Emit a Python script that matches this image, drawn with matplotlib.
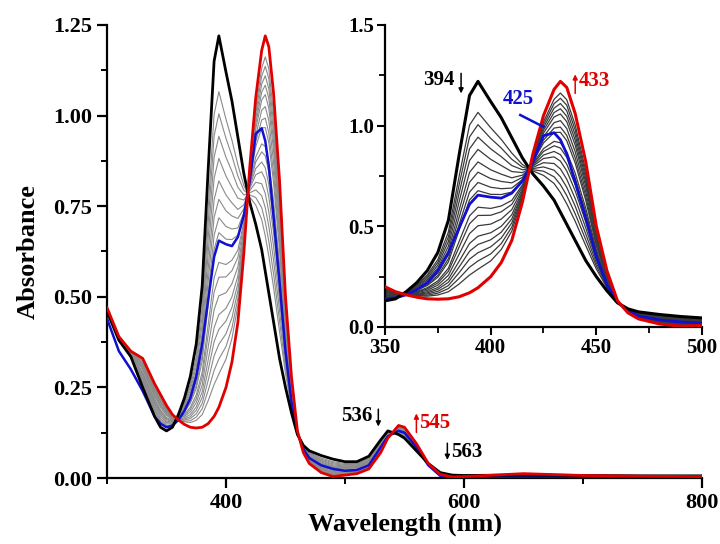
import numpy as np
import matplotlib
matplotlib.use("Agg")
import matplotlib.pyplot as plt
from matplotlib.ticker import MultipleLocator, FormatStrFormatter

plt.rcParams["font.family"] = ["Liberation Serif", "DejaVu Serif"]
plt.rcParams["font.weight"] = "bold"

# wavelength grid (nm)
wl = [300, 310, 320, 330, 340, 345, 350, 355, 360, 365, 370, 375, 380, 385, 390, 394,
      400, 405, 410, 415, 420, 425, 430, 433, 436, 440, 445, 450, 455, 460, 465, 470,
      480, 490, 500, 510, 520, 530, 536, 545, 550, 560, 570, 580, 590, 600, 650, 700, 750, 800]

# start spectrum (black)
abs_start = [0.46, 0.38, 0.335, 0.25, 0.17, 0.14, 0.13, 0.14, 0.175, 0.22, 0.28, 0.37, 0.53, 0.85, 1.15, 1.22,
             1.12, 1.04, 0.94, 0.84, 0.76, 0.70, 0.63, 0.57, 0.51, 0.43, 0.33, 0.25, 0.18, 0.12, 0.09, 0.075,
             0.062, 0.052, 0.045, 0.045, 0.06, 0.105, 0.13, 0.12, 0.11, 0.075, 0.04, 0.015, 0.008, 0.007, 0.008, 0.007, 0.006, 0.006]

# end spectrum (red)
abs_end = [0.47, 0.39, 0.35, 0.33, 0.26, 0.23, 0.20, 0.175, 0.16, 0.148, 0.14, 0.138, 0.14, 0.15, 0.17, 0.195,
           0.25, 0.32, 0.43, 0.62, 0.86, 1.05, 1.18, 1.22, 1.19, 1.06, 0.82, 0.50, 0.28, 0.13, 0.07, 0.04,
           0.015, 0.004, 0.008, 0.012, 0.025, 0.07, 0.11, 0.145, 0.14, 0.095, 0.04, 0.01, 0.003, 0.004, 0.012, 0.007, 0.005, 0.004]

# highlighted intermediate spectrum (blue, 425 nm)
abs_mid = [0.44, 0.35, 0.30, 0.24, 0.17, 0.15, 0.14, 0.145, 0.16, 0.185, 0.22, 0.28, 0.37, 0.49, 0.61, 0.655,
           0.645, 0.64, 0.665, 0.725, 0.82, 0.95, 0.965, 0.93, 0.86, 0.72, 0.54, 0.35, 0.21, 0.125, 0.08, 0.055,
           0.035, 0.025, 0.02, 0.022, 0.035, 0.085, 0.115, 0.13, 0.125, 0.085, 0.035, 0.006, 0.003, 0.003, 0.004, 0.004, 0.003, 0.003]

# titration steps (grey)
gray_01 = [0.462, 0.382, 0.337, 0.262, 0.184, 0.154, 0.141, 0.145, 0.173, 0.209, 0.259, 0.335, 0.472, 0.745, 1.003, 1.066,
           0.990, 0.932, 0.864, 0.807, 0.775, 0.753, 0.713, 0.668, 0.612, 0.525, 0.404, 0.288, 0.195, 0.122, 0.087, 0.070,
           0.055, 0.045, 0.040, 0.040, 0.055, 0.100, 0.127, 0.124, 0.115, 0.078, 0.040, 0.014, 0.007, 0.007, 0.009, 0.007, 0.006, 0.006]
gray_02 = [0.462, 0.382, 0.338, 0.267, 0.189, 0.159, 0.145, 0.147, 0.172, 0.205, 0.251, 0.321, 0.448, 0.703, 0.944, 1.005,
           0.937, 0.889, 0.833, 0.794, 0.781, 0.774, 0.746, 0.707, 0.653, 0.562, 0.433, 0.303, 0.201, 0.122, 0.086, 0.068,
           0.052, 0.042, 0.037, 0.038, 0.053, 0.098, 0.126, 0.125, 0.116, 0.079, 0.040, 0.014, 0.007, 0.006, 0.009, 0.007, 0.006, 0.006]
gray_03 = [0.463, 0.383, 0.339, 0.272, 0.194, 0.164, 0.149, 0.150, 0.171, 0.201, 0.242, 0.307, 0.425, 0.661, 0.885, 0.943,
           0.885, 0.846, 0.802, 0.781, 0.787, 0.795, 0.779, 0.746, 0.694, 0.600, 0.462, 0.318, 0.207, 0.123, 0.085, 0.066,
           0.049, 0.039, 0.035, 0.036, 0.051, 0.096, 0.125, 0.127, 0.118, 0.080, 0.040, 0.014, 0.007, 0.006, 0.009, 0.007, 0.006, 0.005]
gray_04 = [0.463, 0.383, 0.340, 0.276, 0.200, 0.170, 0.153, 0.152, 0.170, 0.196, 0.234, 0.293, 0.401, 0.619, 0.827, 0.882,
           0.833, 0.802, 0.772, 0.767, 0.793, 0.816, 0.812, 0.785, 0.734, 0.638, 0.492, 0.333, 0.213, 0.123, 0.083, 0.063,
           0.047, 0.036, 0.033, 0.034, 0.048, 0.093, 0.123, 0.128, 0.120, 0.082, 0.040, 0.013, 0.006, 0.006, 0.009, 0.007, 0.006, 0.005]
gray_05 = [0.464, 0.384, 0.341, 0.281, 0.205, 0.175, 0.157, 0.154, 0.169, 0.192, 0.225, 0.280, 0.378, 0.577, 0.768, 0.820,
           0.781, 0.759, 0.741, 0.754, 0.799, 0.837, 0.845, 0.824, 0.775, 0.676, 0.521, 0.348, 0.219, 0.124, 0.082, 0.061,
           0.044, 0.033, 0.031, 0.032, 0.046, 0.091, 0.122, 0.130, 0.122, 0.083, 0.040, 0.013, 0.006, 0.006, 0.010, 0.007, 0.006, 0.005]
gray_06 = [0.464, 0.384, 0.342, 0.285, 0.210, 0.180, 0.161, 0.155, 0.168, 0.188, 0.218, 0.268, 0.358, 0.542, 0.719, 0.769,
           0.737, 0.723, 0.716, 0.743, 0.804, 0.854, 0.872, 0.856, 0.809, 0.707, 0.546, 0.360, 0.224, 0.124, 0.081, 0.060,
           0.041, 0.031, 0.029, 0.031, 0.045, 0.090, 0.121, 0.131, 0.123, 0.084, 0.040, 0.013, 0.006, 0.006, 0.010, 0.007, 0.006, 0.005]
gray_07 = [0.465, 0.385, 0.342, 0.289, 0.214, 0.184, 0.164, 0.157, 0.168, 0.185, 0.211, 0.256, 0.339, 0.507, 0.670, 0.718,
           0.694, 0.687, 0.690, 0.732, 0.809, 0.872, 0.900, 0.889, 0.843, 0.739, 0.570, 0.373, 0.229, 0.125, 0.080, 0.058,
           0.039, 0.029, 0.027, 0.029, 0.043, 0.088, 0.120, 0.132, 0.125, 0.085, 0.040, 0.013, 0.006, 0.006, 0.010, 0.007, 0.006, 0.005]
gray_08 = [0.465, 0.385, 0.343, 0.292, 0.218, 0.188, 0.167, 0.159, 0.167, 0.182, 0.206, 0.247, 0.323, 0.479, 0.631, 0.677,
           0.659, 0.658, 0.670, 0.723, 0.813, 0.886, 0.922, 0.915, 0.870, 0.764, 0.590, 0.383, 0.233, 0.125, 0.079, 0.056,
           0.037, 0.027, 0.025, 0.028, 0.041, 0.086, 0.119, 0.133, 0.126, 0.086, 0.040, 0.012, 0.005, 0.005, 0.010, 0.007, 0.005, 0.005]
gray_09 = [0.466, 0.386, 0.344, 0.299, 0.225, 0.195, 0.173, 0.161, 0.166, 0.176, 0.195, 0.229, 0.292, 0.423, 0.552, 0.595,
           0.589, 0.601, 0.629, 0.706, 0.821, 0.914, 0.966, 0.967, 0.925, 0.814, 0.629, 0.403, 0.241, 0.126, 0.078, 0.054,
           0.033, 0.023, 0.022, 0.025, 0.039, 0.084, 0.118, 0.135, 0.128, 0.087, 0.040, 0.012, 0.005, 0.005, 0.010, 0.007, 0.005, 0.005]
gray_10 = [0.467, 0.387, 0.345, 0.302, 0.229, 0.199, 0.176, 0.163, 0.165, 0.173, 0.189, 0.219, 0.277, 0.395, 0.513, 0.554,
           0.555, 0.572, 0.609, 0.697, 0.825, 0.928, 0.988, 0.993, 0.952, 0.840, 0.649, 0.413, 0.245, 0.127, 0.077, 0.052,
           0.031, 0.021, 0.021, 0.024, 0.037, 0.082, 0.117, 0.136, 0.130, 0.088, 0.040, 0.012, 0.005, 0.005, 0.011, 0.007, 0.005, 0.005]
gray_11 = [0.467, 0.387, 0.346, 0.306, 0.233, 0.203, 0.179, 0.165, 0.165, 0.170, 0.182, 0.208, 0.257, 0.360, 0.464, 0.503,
           0.511, 0.536, 0.583, 0.686, 0.830, 0.945, 1.015, 1.025, 0.986, 0.871, 0.673, 0.425, 0.250, 0.127, 0.076, 0.051,
           0.029, 0.018, 0.019, 0.022, 0.036, 0.081, 0.116, 0.138, 0.131, 0.089, 0.040, 0.012, 0.005, 0.005, 0.011, 0.007, 0.005, 0.005]
gray_12 = [0.468, 0.388, 0.346, 0.310, 0.238, 0.208, 0.183, 0.166, 0.164, 0.166, 0.175, 0.196, 0.238, 0.325, 0.415, 0.451,
           0.468, 0.500, 0.558, 0.675, 0.835, 0.963, 1.043, 1.058, 1.020, 0.903, 0.698, 0.438, 0.255, 0.128, 0.075, 0.049,
           0.027, 0.016, 0.017, 0.020, 0.034, 0.079, 0.115, 0.139, 0.133, 0.090, 0.040, 0.011, 0.004, 0.005, 0.011, 0.007, 0.005, 0.005]
gray_13 = [0.468, 0.388, 0.347, 0.313, 0.241, 0.211, 0.185, 0.168, 0.163, 0.163, 0.169, 0.187, 0.222, 0.297, 0.376, 0.410,
           0.433, 0.471, 0.537, 0.666, 0.839, 0.977, 1.065, 1.084, 1.047, 0.928, 0.717, 0.448, 0.259, 0.128, 0.074, 0.047,
           0.025, 0.014, 0.016, 0.019, 0.032, 0.077, 0.114, 0.140, 0.134, 0.091, 0.040, 0.011, 0.004, 0.005, 0.011, 0.007, 0.005, 0.004]
gray_14 = [0.468, 0.388, 0.347, 0.316, 0.245, 0.215, 0.188, 0.169, 0.163, 0.160, 0.164, 0.177, 0.206, 0.269, 0.337, 0.369,
           0.398, 0.442, 0.517, 0.657, 0.843, 0.991, 1.087, 1.110, 1.074, 0.953, 0.737, 0.458, 0.263, 0.128, 0.073, 0.046,
           0.023, 0.012, 0.014, 0.018, 0.031, 0.076, 0.113, 0.141, 0.135, 0.092, 0.040, 0.011, 0.004, 0.005, 0.011, 0.007, 0.005, 0.004]
gray_15 = [0.469, 0.389, 0.348, 0.320, 0.248, 0.218, 0.191, 0.170, 0.162, 0.157, 0.158, 0.168, 0.191, 0.241, 0.297, 0.328,
           0.363, 0.414, 0.496, 0.649, 0.847, 1.005, 1.109, 1.136, 1.102, 0.978, 0.756, 0.468, 0.267, 0.129, 0.073, 0.045,
           0.021, 0.010, 0.013, 0.016, 0.030, 0.075, 0.113, 0.142, 0.136, 0.092, 0.040, 0.011, 0.004, 0.004, 0.011, 0.007, 0.005, 0.004]
gray_16 = [0.469, 0.389, 0.349, 0.323, 0.252, 0.222, 0.194, 0.172, 0.161, 0.155, 0.153, 0.159, 0.175, 0.213, 0.258, 0.287,
           0.328, 0.385, 0.476, 0.640, 0.851, 1.019, 1.131, 1.162, 1.129, 1.003, 0.776, 0.478, 0.271, 0.129, 0.072, 0.043,
           0.019, 0.008, 0.011, 0.015, 0.028, 0.073, 0.112, 0.143, 0.137, 0.093, 0.040, 0.011, 0.003, 0.004, 0.012, 0.007, 0.005, 0.004]
grays = [gray_01, gray_02, gray_03, gray_04, gray_05, gray_06, gray_07, gray_08,
         gray_09, gray_10, gray_11, gray_12, gray_13, gray_14, gray_15, gray_16]

fig = plt.figure(figsize=(7.2, 5.44), dpi=100)

ax = fig.add_axes([107 / 720, 66 / 544, 595 / 720, 453 / 544])
for g in grays:
    ax.plot(wl, g, color="#8a8a8a", lw=0.8, zorder=2)
ax.plot(wl, abs_mid, color="#1010d0", lw=1.8, zorder=3)
ax.plot(wl, abs_start, color="black", lw=2.0, zorder=4)
ax.plot(wl, abs_end, color="#e00000", lw=2.0, zorder=5)

ax.set_xlim(300, 800)
ax.set_ylim(0, 1.25)
ax.xaxis.set_major_locator(MultipleLocator(200))
ax.xaxis.set_minor_locator(MultipleLocator(100))
ax.yaxis.set_major_locator(MultipleLocator(0.25))
ax.yaxis.set_minor_locator(MultipleLocator(0.125))
ax.yaxis.set_major_formatter(FormatStrFormatter("%.2f"))
ax.set_xlabel("Wavelength (nm)", fontsize=19, fontweight="bold", labelpad=0)
ax.set_ylabel("Absorbance", fontsize=19, fontweight="bold", labelpad=10)

ax.spines["top"].set_visible(False)
ax.spines["right"].set_visible(False)
for s in ("left", "bottom"):
    ax.spines[s].set_linewidth(1.6)
ax.tick_params(which="major", direction="out", length=7, width=1.6, labelsize=16)
ax.tick_params(which="minor", direction="out", length=4, width=1.4)

arrow = dict(arrowstyle="-|>", lw=1.1, mutation_scale=7, shrinkA=0, shrinkB=0)
ax.text(523, 0.172, "536", ha="right", va="center", fontsize=15, fontweight="bold")
ax.annotate("", xy=(528, 0.142), xytext=(528, 0.19), arrowprops=dict(arrow, color="black"))
ax.annotate("", xy=(560, 0.178), xytext=(560, 0.126), arrowprops=dict(arrow, color="#e00000"))
ax.text(562, 0.152, "545", ha="left", va="center", fontsize=15, fontweight="bold", color="#e00000")
ax.annotate("", xy=(586, 0.05), xytext=(586, 0.096), arrowprops=dict(arrow, color="black"))
ax.text(589, 0.073, "563", ha="left", va="center", fontsize=15, fontweight="bold")

# inset
ins = fig.add_axes([385 / 720, 217 / 544, 317 / 720, 302 / 544])
for g in grays:
    ins.plot(wl, g, color="#3a3a3a", lw=0.9, zorder=2)
ins.plot(wl, abs_mid, color="#1010d0", lw=2.0, zorder=3)
ins.plot(wl, abs_start, color="black", lw=2.2, zorder=4)
ins.plot(wl, abs_end, color="#e00000", lw=2.2, zorder=5)
ins.set_xlim(350, 500)
ins.set_ylim(0, 1.5)
ins.xaxis.set_major_locator(MultipleLocator(50))
ins.xaxis.set_minor_locator(MultipleLocator(25))
ins.yaxis.set_major_locator(MultipleLocator(0.5))
ins.yaxis.set_minor_locator(MultipleLocator(0.25))
ins.yaxis.set_major_formatter(FormatStrFormatter("%.1f"))
ins.spines["top"].set_visible(False)
ins.spines["right"].set_visible(False)
for s in ("left", "bottom"):
    ins.spines[s].set_linewidth(1.6)
ins.tick_params(which="major", direction="out", length=6, width=1.5, labelsize=15, pad=2)
ins.tick_params(which="minor", direction="out", length=4, width=1.3)

ins.text(383, 1.227, "394", ha="right", va="center", fontsize=15, fontweight="bold")
ins.annotate("", xy=(386, 1.16), xytext=(386, 1.26), arrowprops=dict(arrow, color="black"))
ins.text(413, 1.13, "425", ha="center", va="center", fontsize=15, fontweight="bold", color="#1010d0")
ins.plot([414, 425], [1.053, 0.994], color="#1010d0", lw=1.8, zorder=6)
ins.annotate("", xy=(440, 1.255), xytext=(440, 1.16), arrowprops=dict(arrow, color="#e00000"))
ins.text(441.5, 1.222, "433", ha="left", va="center", fontsize=15, fontweight="bold", color="#e00000")

fig.savefig("out.png", dpi=100)
